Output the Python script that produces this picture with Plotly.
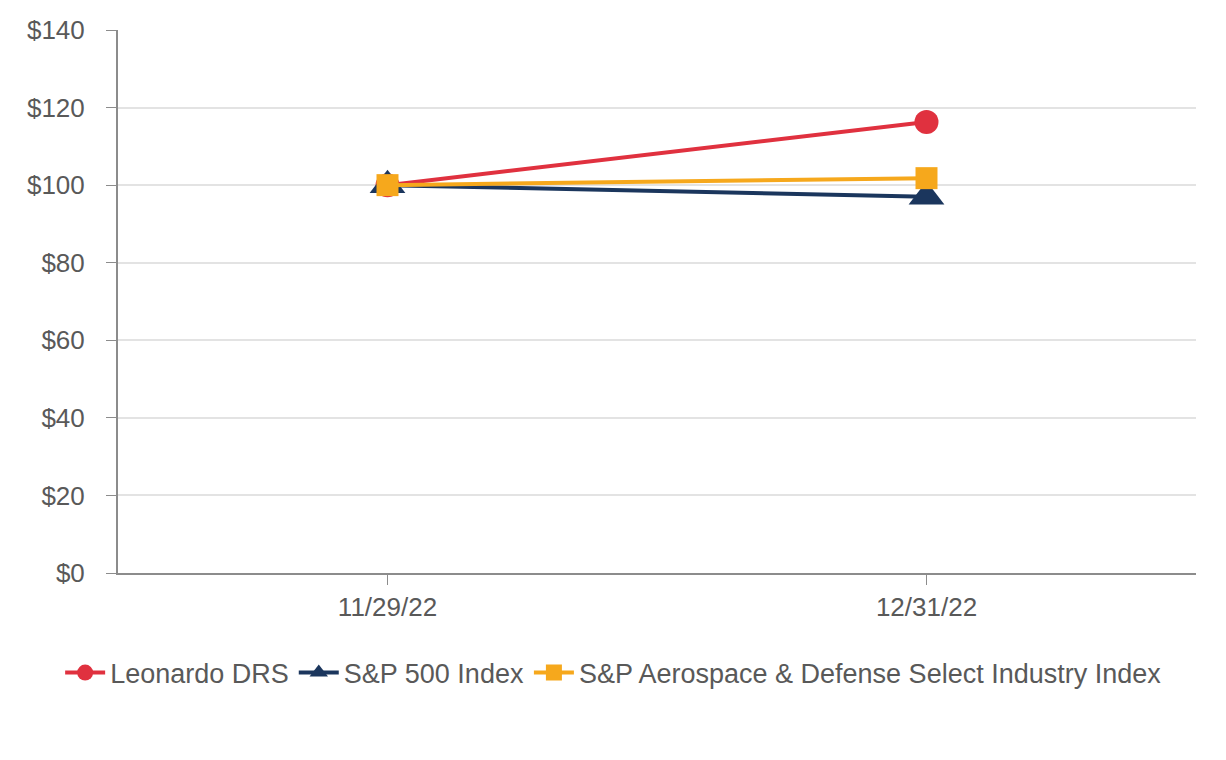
import plotly.graph_objects as go

dates = ["11/29/22", "12/31/22"]
leonardo = [100, 116.3]
sp500 = [100, 97.0]
aero = [100, 101.8]
ytick_vals = [0, 20, 40, 60, 80, 100, 120, 140]
ytick_text = ["$0", "$20", "$40", "$60", "$80", "$100", "$120", "$140"]

W, H = 1226, 760

fig = go.Figure()
fig.add_trace(go.Scatter(x=dates, y=leonardo, name="Leonardo DRS", mode="lines+markers",
                         line=dict(color="#E0313F", width=4),
                         marker=dict(symbol="circle", size=24, color="#E0313F")))
fig.add_trace(go.Scatter(x=dates, y=sp500, name="S&P 500 Index", mode="lines+markers",
                         line=dict(color="#1B365D", width=4),
                         marker=dict(symbol="triangle-up", size=31, color="#1B365D")))
fig.add_trace(go.Scatter(x=dates, y=aero, name="S&P Aerospace & Defense Select Industry Index",
                         mode="lines+markers",
                         line=dict(color="#F6A81C", width=4),
                         marker=dict(symbol="square", size=22, color="#F6A81C")))

fig.update_layout(
    width=W, height=H,
    margin=dict(l=0, r=0, t=0, b=0),
    plot_bgcolor="white", paper_bgcolor="white",
    font=dict(family="Liberation Sans, Arial", size=26, color="#595959"),
    legend=dict(orientation="h", x=0.494, xanchor="center", y=(H - 665) / H, yanchor="middle",
                font=dict(size=27, color="#595959"), itemwidth=40, tracegroupgap=0),
    xaxis=dict(type="category", range=[-0.5, 1.5], domain=[110 / W, 1188 / W],
               showline=True, linecolor="#8c8c8c",
               linewidth=2, ticks="outside", ticklen=10, tickcolor="#8c8c8c",
               showgrid=False, automargin=False, tickfont=dict(size=26, color="#595959")),
    yaxis=dict(range=[0, 140], domain=[195 / H, (H - 22) / H],
               tickvals=ytick_vals, ticktext=ytick_text,
               showline=True, linecolor="#8c8c8c", linewidth=2, ticks="outside",
               ticklen=10, tickcolor="#8c8c8c", gridcolor="#e3e3e3", gridwidth=2,
               zeroline=False, ticklabelstandoff=16, automargin=False,
               tickfont=dict(size=26, color="#595959")),
)
fig.write_html("out.html")
